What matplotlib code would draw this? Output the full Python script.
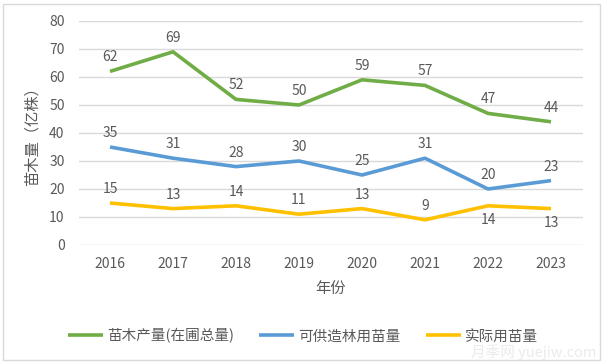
import matplotlib
matplotlib.use('Agg')
import matplotlib.pyplot as plt
from matplotlib.patches import Rectangle

plt.rcParams['font.family'] = ['Noto Sans CJK SC', 'DejaVu Sans']

years = ['2016', '2017', '2018', '2019', '2020', '2021', '2022', '2023']
total = [62, 69, 52, 50, 59, 57, 47, 44]
avail = [35, 31, 28, 30, 25, 31, 20, 23]
actual = [15, 13, 14, 11, 13, 9, 14, 13]

names = ['苗木产量(在圃总量)', '可供造林用苗量', '实际用苗量']
colors = ['#70AD47', '#5B9BD5', '#FFC000']
txt = '#595959'

fig = plt.figure(figsize=(6.04, 3.64), dpi=100)
fig.patches.append(Rectangle((3/604, 4/364), 597/604, 356/364, transform=fig.transFigure,
                             fill=False, edgecolor='#D9D9D9', linewidth=1))
ax = fig.add_axes([78.5/604, 1-245/364, 504/604, 224/364])

x = list(range(len(years)))
series = [total, avail, actual]
for vals, name, c in zip(series, names, colors):
    ax.plot(x, vals, color=c, linewidth=2.6, label=name, solid_capstyle='butt', zorder=3)

# data labels
for vals in (total, avail):
    for i, v in enumerate(vals):
        ax.annotate(str(v), (i, v), xytext=(0, 5), textcoords='offset points',
                    ha='center', va='bottom', fontsize=10, color=txt)
for i, v in enumerate(actual):
    below = i >= 6
    ax.annotate(str(v), (i, v), xytext=(0, -5 if below else 5), textcoords='offset points',
                ha='center', va='top' if below else 'bottom', fontsize=10, color=txt)

ax.set_xlim(-0.5, len(years) - 0.5)
ax.set_ylim(0, 80)
ax.set_yticks(range(0, 81, 10))
ax.set_xticks(x)
ax.set_xticklabels(years)
ax.grid(axis='y', color='#D9D9D9', linewidth=1)
ax.set_axisbelow(True)
for s in ax.spines.values():
    s.set_visible(False)
ax.tick_params(length=0, colors=txt, labelsize=10)
ax.tick_params(axis='x', pad=9)
ax.tick_params(axis='y', pad=10)

ax.set_xlabel('年份', fontsize=11, color=txt, labelpad=6)
fig.text(32/604, 1-133/364, '苗木量（亿株）', rotation=90, ha='center', va='center',
         fontsize=11, color=txt)

ax.legend(loc='center', bbox_to_anchor=(303/604, 1-336/364), bbox_transform=fig.transFigure,
          ncol=3, frameon=False, fontsize=10.5, labelcolor=txt, handlelength=2.4,
          columnspacing=1.7, handletextpad=0.3)

# faint watermark, bottom right
fig.text(596/604, 1-352/364, '月季网 yuejiw.com', ha='right', va='center',
         fontsize=10.5, color='#EBEBEB', zorder=0)

fig.savefig('out.png', dpi=100)
